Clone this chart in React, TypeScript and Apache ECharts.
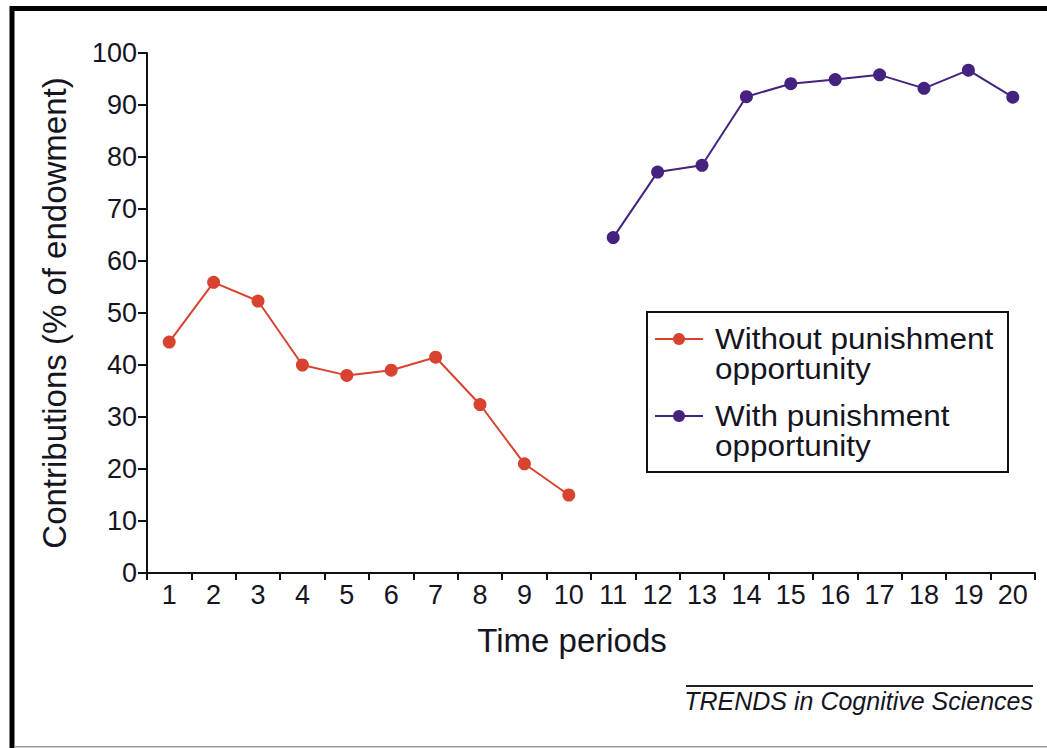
import React, { useEffect, useRef } from "react";
import * as echarts from "echarts";

const periods = ["1", "2", "3", "4", "5", "6", "7", "8", "9", "10", "11", "12", "13", "14", "15", "16", "17", "18", "19", "20"];
const withoutPeriods = ["1", "2", "3", "4", "5", "6", "7", "8", "9", "10"];
const withoutValues = [44.4, 55.9, 52.3, 40, 38, 39, 41.5, 32.4, 21, 15];
const withPeriods = ["11", "12", "13", "14", "15", "16", "17", "18", "19", "20"];
const withValues = [64.5, 77.1, 78.4, 91.6, 94.1, 94.9, 95.8, 93.2, 96.7, 91.5];
const yTicks = [0, 10, 20, 30, 40, 50, 60, 70, 80, 90, 100];
const legendLabels = ["Without punishment\nopportunity", "With punishment\nopportunity"];

const RED = "#d8432f";
const PURPLE = "#44227f";
const TEXT = "#15151f";
const FONT = "Liberation Sans, Arial, Helvetica, sans-serif";

export default function App() {
  const ref = useRef<HTMLDivElement>(null);
  useEffect(() => {
    document.body.style.margin = "0";
    const chart = echarts.init(ref.current!, null, { renderer: "svg" });
    const legendItems = [
      { color: RED, text: legendLabels[0], y: 339 },
      { color: PURPLE, text: legendLabels[1], y: 416 },
    ];
    const legendGraphics: any[] = [
      {
        type: "rect",
        shape: { x: 647, y: 312, width: 361, height: 160 },
        style: { fill: "#fff", stroke: "#111", lineWidth: 2 },
        z: 10,
      },
    ];
    legendItems.forEach((it) => {
      legendGraphics.push({
        type: "line",
        shape: { x1: 655, y1: it.y, x2: 703, y2: it.y },
        style: { stroke: it.color, lineWidth: 2 },
        z: 11,
      });
      legendGraphics.push({
        type: "circle",
        shape: { cx: 679, cy: it.y, r: 6 },
        style: { fill: it.color },
        z: 11,
      });
      legendGraphics.push({
        type: "text",
        x: 715,
        y: it.y - 15,
        scaleX: 1.05,
        style: {
          text: it.text,
          fill: TEXT,
          font: `30px ${FONT}`,
          lineHeight: 30,
          textVerticalAlign: "top",
          textAlign: "left",
        },
        z: 11,
      });
    });

    chart.setOption({
      animation: false,
      backgroundColor: "#fff",
      grid: { left: 147, right: 12, top: 53, bottom: 175, containLabel: false },
      xAxis: {
        type: "category",
        data: periods,
        boundaryGap: true,
        name: "Time periods",
        nameLocation: "middle",
        nameGap: 51,
        nameTextStyle: { fontSize: 33, color: TEXT, fontFamily: FONT, padding: [0, 38, 0, 0] },
        axisLine: { lineStyle: { color: "#111", width: 2 } },
        axisTick: { show: true, length: 7, alignWithLabel: false, lineStyle: { color: "#111", width: 2 } },
        axisLabel: { fontSize: 27, color: TEXT, fontFamily: FONT, margin: 8, interval: 0 },
        splitLine: { show: false },
      },
      yAxis: {
        type: "value",
        min: yTicks[0],
        max: yTicks[yTicks.length - 1],
        interval: 10,
        name: "Contributions (% of endowment)",
        nameLocation: "middle",
        nameGap: 76,
        nameTextStyle: { fontSize: 33, color: TEXT, fontFamily: FONT },
        axisLine: { show: true, lineStyle: { color: "#111", width: 2 } },
        axisTick: { show: true, length: 9, lineStyle: { color: "#111", width: 2 } },
        axisLabel: { fontSize: 27, color: TEXT, fontFamily: FONT, margin: 10 },
        splitLine: { show: false },
      },
      series: [
        {
          name: "Without punishment opportunity",
          type: "line",
          data: withoutPeriods.map((p, i) => [p, withoutValues[i]]),
          symbol: "circle",
          symbolSize: 13,
          itemStyle: { color: RED },
          lineStyle: { color: RED, width: 2 },
        },
        {
          name: "With punishment opportunity",
          type: "line",
          data: withPeriods.map((p, i) => [p, withValues[i]]),
          symbol: "circle",
          symbolSize: 13,
          itemStyle: { color: PURPLE },
          lineStyle: { color: PURPLE, width: 2 },
        },
      ],
      graphic: [
        {
          type: "line",
          shape: { x1: 12, y1: 6, x2: 12, y2: 748 },
          style: { stroke: "#000", lineWidth: 5 },
        },
        {
          type: "line",
          shape: { x1: 10, y1: 8.5, x2: 1047, y2: 8.5 },
          style: { stroke: "#000", lineWidth: 5 },
        },
        {
          type: "line",
          shape: { x1: 14, y1: 746.8, x2: 1047, y2: 746.8 },
          style: { stroke: "#9a9a9a", lineWidth: 1.5 },
        },
        {
          type: "line",
          shape: { x1: 686, y1: 686, x2: 1033, y2: 686 },
          style: { stroke: "#222", lineWidth: 2 },
        },
        {
          type: "text",
          x: 1033,
          y: 701,
          style: {
            text: "TRENDS in Cognitive Sciences",
            fill: TEXT,
            font: `italic 25px ${FONT}`,
            textAlign: "right",
            textVerticalAlign: "middle",
          },
        },
        ...legendGraphics,
      ],
    });
    return () => chart.dispose();
  }, []);
  return <div ref={ref} style={{ position: "absolute", left: 0, top: 0, width: 1047, height: 748 }} />;
}
